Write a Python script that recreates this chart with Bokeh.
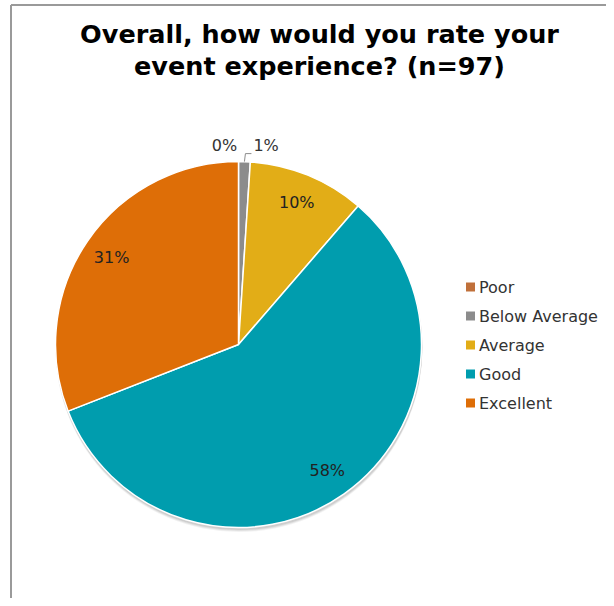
import math
from bokeh.plotting import figure
from bokeh.models import Range1d, Label
from bokeh.core.properties import value
from bokeh.embed import file_html
from bokeh.resources import INLINE

# ---- data ----
categories = ["Poor", "Below Average", "Average", "Good", "Excellent"]
counts = [0, 1, 10, 56, 30]          # n = 97
colors = ["#C0703A", "#8C8C8C", "#E2AD17", "#009DAE", "#DE6E07"]
title_lines = ["Overall, how would you rate your", "event experience? (n=97)"]

W, H = 606, 598
FONT = "DejaVu Sans"

def px(x):  # picture x -> data x
    return x

def py(y):  # picture y -> data y
    return H - y

p = figure(width=W, height=H, output_backend="svg", toolbar_location=None,
           x_range=Range1d(0, W), y_range=Range1d(0, H), min_border=0,
           outline_line_color=None)
p.axis.visible = False
p.grid.visible = False
p.background_fill_color = "white"
p.border_fill_color = "white"

# frame border of the chart area (top and left visible)
p.line([px(10.5), px(10.5)], [py(4.5), py(700)], line_color="#9A9A9A", line_width=2)
p.line([px(10.5), px(700)], [py(4.5), py(4.5)], line_color="#9A9A9A", line_width=2)

cx, cy, R = px(238), py(344), 183

# soft shadow
for off, a in [(4, 0.10), (3, 0.15), (2, 0.2)]:
    p.circle(x=[cx + 0.5], y=[cy - off], radius=R + 0.5, fill_color="#808080",
             fill_alpha=a, line_color=None)

total = sum(counts)
starts, ends, mids = [], [], []
cum = 0.0
for c in counts:
    a0 = cum / total * 2 * math.pi
    cum += c
    a1 = cum / total * 2 * math.pi
    starts.append(math.pi / 2 - a0)
    ends.append(math.pi / 2 - a1)
    mids.append((a0 + a1) / 2)

for i in range(len(categories)):
    if counts[i] == 0:
        continue
    p.wedge(x=cx, y=cy, radius=R, start_angle=starts[i], end_angle=ends[i],
            direction="clock", fill_color=colors[i], line_color="white",
            line_width=1.5)

# percentage labels
pct = [f"{round(c / total * 100)}%" for c in counts]
lx, ly = [], []
for i, m in enumerate(mids):
    if counts[i] >= 5:
        r = 0.84 * R
        lx.append(cx + r * math.sin(m))
        ly.append(cy + r * math.cos(m))
    else:
        lx.append(None)
        ly.append(None)
inside = [i for i in range(len(counts)) if lx[i] is not None]
p.text(x=[lx[i] for i in inside], y=[ly[i] for i in inside],
       text=[pct[i] for i in inside], text_font=value(FONT),
       text_font_size="16px", text_color="#222222",
       text_align="center", text_baseline="middle")

# outside labels for the tiny slices
p.text(x=[cx - 14], y=[cy + R + 16], text=[pct[0]], text_font=value(FONT),
       text_font_size="16px", text_color="#333333",
       text_align="center", text_baseline="middle")
bm = mids[1]
sx = cx + R * math.sin(bm)
sy = cy + R * math.cos(bm)
p.line([sx, sx + 1, sx + 7], [sy, sy + 8, sy + 8], line_color="#8C8C8C", line_width=1)
p.text(x=[sx + 9], y=[cy + R + 16], text=[pct[1]], text_font=value(FONT),
       text_font_size="16px", text_color="#333333",
       text_align="left", text_baseline="middle")

# legend
leg_x = px(470)
leg_y0 = py(286.5)
step = 29
for i, cat in enumerate(categories):
    yy = leg_y0 - i * step
    p.scatter(x=[leg_x], y=[yy], marker="square", size=9, fill_color=colors[i],
              line_color=None)
    p.text(x=[leg_x + 8.5], y=[yy], text=[cat], text_font=value(FONT),
           text_font_size="16px", text_color="#333333",
           text_align="left", text_baseline="middle")

# title
for k, line in enumerate(title_lines):
    p.add_layout(Label(x=px(319), y=py(33 + 32 * k), text=line,
                       text_font=FONT, text_font_size="25.5px",
                       text_font_style="bold", text_color="#000000",
                       text_align="center", text_baseline="middle"))

open("out.html", "w").write(file_html(p, INLINE))
